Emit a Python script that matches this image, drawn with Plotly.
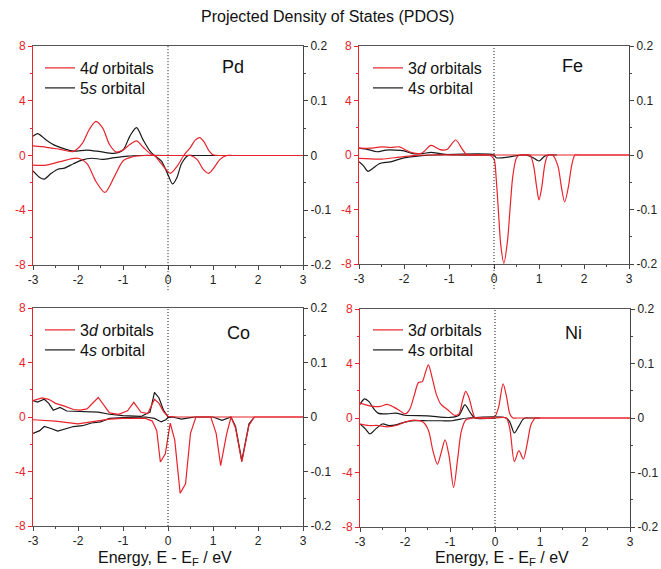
import plotly.graph_objects as go

# ---------------- data ----------------
# Pd
pd_d_up_x = [-3, -2.7, -2.4, -2.1, -1.9, -1.75, -1.6, -1.45, -1.3, -1.15, -1.0, -0.85, -0.7, -0.55, -0.4, -0.3, -0.15, 0.05, 0.2, 0.35, 0.5, 0.6, 0.7, 0.8, 0.9, 1.0, 1.2, 1.4, 3]
pd_d_up_y = [0.7, 0.6, 0.45, 0.3, 0.9, 1.9, 2.5, 2.0, 0.8, 0.25, 0.4, 0.8, 1.07, 0.6, 0.15, 0.0, -0.6, -1.3, -0.8, 0.0, 0.6, 1.1, 1.3, 1.0, 0.4, 0.05, 0, 0, 0]
pd_d_dn_x = [-3, -2.7, -2.4, -2.0, -1.8, -1.6, -1.4, -1.2, -1.0, -0.8, -0.5, -0.4, 0.4, 0.5, 0.65, 0.78, 0.9, 1.02, 1.15, 1.3, 1.45, 3]
pd_d_dn_y = [-0.7, -0.7, -0.45, -0.2, -0.6, -1.9, -2.7, -1.6, -0.4, -0.1, 0, 0, 0, 0, -0.3, -1.0, -1.3, -0.9, -0.3, 0, 0, 0]
pd_s_up_x = [-3, -2.9, -2.7, -2.5, -2.3, -2.1, -1.8, -1.5, -1.2, -1.0, -0.85, -0.7, -0.55, -0.4, -0.3, -0.15, 0.0, 0.1, 0.2, 0.3, 0.45, 0.55, 1.2]
pd_s_up_y = [0.035, 0.04, 0.028, 0.018, 0.012, 0.008, 0.01, 0.007, 0.004, 0.01, 0.035, 0.051, 0.028, 0.008, 0.0, -0.01, -0.035, -0.052, -0.04, -0.015, 0.0, 0.0, 0.0]
pd_s_dn_x = [-3, -2.85, -2.75, -2.6, -2.45, -2.3, -2.1, -1.9, -1.7, -1.45, -1.2, -0.9, -0.6, 0]
pd_s_dn_y = [-0.028, -0.04, -0.043, -0.033, -0.025, -0.023, -0.015, -0.008, -0.005, -0.007, -0.004, -0.001, 0, 0]

# Fe
fe_d_up_x = [-3, -2.75, -2.5, -2.3, -2.1, -1.95, -1.8, -1.6, -1.4, -1.2, -1.05, -0.85, -0.72, -0.6, -0.5, 3]
fe_d_up_y = [0.5, 0.5, 0.6, 0.55, 0.6, 0.35, 0.15, 0.15, 0.7, 0.4, 0.4, 1.1, 0.5, 0.0, 0, 0]
fe_d_dn_x = [-3, -2.5, -2.1, -1.8, -1.5, -0.2, -0.1, 0.0, 0.05, 0.1, 0.15, 0.22, 0.3, 0.36, 0.42, 0.5, 0.57, 0.65, 0.8, 0.88, 0.95, 1.0, 1.06, 1.13, 1.2, 1.3, 1.42, 1.5, 1.57, 1.65, 1.73, 1.8, 1.9, 3]
fe_d_dn_y = [-0.25, -0.3, -0.15, -0.05, 0, 0, 0, -0.3, -1.8, -4.2, -6.6, -7.95, -6.3, -3.8, -1.5, -0.2, 0, 0, 0, -0.8, -2.4, -3.3, -2.4, -0.7, 0, 0, -0.8, -2.4, -3.45, -2.4, -0.7, 0, 0, 0]
fe_s_up_x = [-3, -2.8, -2.6, -2.4, -2.2, -2.0, -1.8, -1.6, -1.4, -1.2, -1.0, -0.8, 0]
fe_s_up_y = [0.0125, 0.01, 0.006, 0.009, 0.009, 0.0075, 0.0025, 0.0025, 0.005, 0.0025, 0.0005, 0, 0]
fe_s_dn_x = [-3, -2.9, -2.8, -2.7, -2.55, -2.3, -2.1, -1.9, -1.6, -1.3, 0, 0.05, 0.3, 0.5, 0.7, 0.85, 1.0, 1.12, 1.2, 1.4]
fe_s_dn_y = [-0.0125, -0.02, -0.03, -0.025, -0.016, -0.0125, -0.0075, -0.004, -0.001, 0, 0, -0.005, -0.004, -0.001, 0, -0.004, -0.011, -0.0025, 0, 0]

# Co
co_d_up_x = [-3, -2.8, -2.65, -2.5, -2.3, -2.1, -1.95, -1.8, -1.55, -1.3, -1.1, -0.9, -0.76, -0.6, -0.45, -0.3, -0.2, -0.1, 0, 0.2, 3]
co_d_up_y = [1.2, 1.4, 1.3, 1.0, 0.8, 0.55, 0.5, 0.6, 1.43, 0.3, 0.2, 0.45, 1.08, 0.35, 0.25, 1.3, 1.0, 0.4, 0.05, 0, 0]
co_d_dn_x = [-3, -2.5, -2.0, -1.7, -1.3, -1.0, -0.5, -0.35, -0.25, -0.17, -0.06, 0.05, 0.15, 0.27, 0.39, 0.5, 0.62, 0.95, 1.07, 1.17, 1.3, 1.4, 1.5, 1.64, 1.8, 1.92, 3]
co_d_dn_y = [-0.2, -0.3, -0.5, -0.35, -0.15, -0.1, -0.1, -0.3, -1.0, -3.3, -2.7, -0.45, -1.7, -5.6, -4.9, -1.2, 0, 0, -1.2, -3.57, -1.3, 0, -0.8, -3.3, -0.6, 0, 0]
co_s_up_x = [-3, -2.9, -2.75, -2.65, -2.55, -2.4, -2.25, -2.0, -1.8, -1.55, -1.3, -1.0, -0.6, -0.4, -0.3, -0.2, -0.1, 0]
co_s_up_y = [0.03, 0.0275, 0.0325, 0.025, 0.0125, 0.0175, 0.011, 0.01, 0.01, 0.009, 0.005, 0.0025, 0.001, 0.009, 0.045, 0.035, 0.0125, 0]
co_s_dn_x = [-3, -2.85, -2.75, -2.6, -2.45, -2.3, -2.1, -1.9, -1.7, -1.5, -1.3, -1.0, -0.5, -0.3, -0.15, -0.05, 0, 0.1, 0.3, 0.5, 0.6, 1.0, 1.2, 1.4, 1.5, 1.64, 1.8, 1.92]
co_s_dn_y = [-0.03, -0.025, -0.0175, -0.021, -0.026, -0.0225, -0.0175, -0.016, -0.011, -0.009, -0.0025, -0.001, 0, -0.0025, -0.009, -0.005, -0.001, 0, -0.004, -0.001, 0, 0, -0.006, 0, -0.0175, -0.08, -0.0125, 0]

# Ni
ni_d_up_x = [-3, -2.85, -2.7, -2.55, -2.4, -2.25, -2.1, -2.0, -1.9, -1.8, -1.7, -1.62, -1.55, -1.48, -1.4, -1.3, -1.2, -1.05, -0.9, -0.8, -0.72, -0.65, -0.58, -0.5, -0.45, -0.4, -0.05, 0, 0.08, 0.18, 0.26, 0.33, 0.4, 0.5, 3]
ni_d_up_y = [1.1, 0.95, 0.85, 0.85, 1.0, 0.8, 0.5, 0.3, 0.6, 1.6, 2.6, 2.65, 3.3, 3.9, 3.0, 1.7, 1.0, 0.6, 0.2, 0.3, 1.3, 1.95, 1.5, 0.5, 0.05, 0, 0, 0.1, 0.8, 2.5, 1.5, 0.3, 0, 0, 0]
ni_d_dn_x = [-3, -2.8, -2.6, -2.4, -2.2, -2.0, -1.8, -1.6, -1.48, -1.38, -1.28, -1.2, -1.11, -1.02, -0.92, -0.83, -0.75, -0.65, -0.5, 0, 0.25, 0.33, 0.43, 0.53, 0.63, 0.72, 0.8, 0.9, 1.0, 3]
ni_d_dn_y = [-0.45, -0.55, -0.55, -0.65, -0.55, -0.3, -0.15, -0.3, -0.9, -2.4, -3.4, -2.6, -1.6, -2.8, -5.1, -3.0, -1.0, -0.15, 0, 0, 0, -0.8, -3.2, -2.4, -3.0, -1.8, -0.5, 0, 0, 0]
ni_s_up_x = [-3, -2.9, -2.8, -2.7, -2.6, -2.4, -2.2, -2.0, -1.5, -1.0, -0.8, -0.67, -0.55, -0.45, 0]
ni_s_up_y = [0.025, 0.035, 0.03, 0.0175, 0.009, 0.0075, 0.009, 0.005, 0.004, 0.001, 0.005, 0.024, 0.01, 0, 0]
ni_s_dn_x = [-3, -2.88, -2.78, -2.65, -2.5, -2.35, -2.2, -2.0, -1.8, -1.5, -1.2, -0.95, -0.8, -0.6, 0.25, 0.33, 0.43, 0.53, 0.62, 0.68, 0.75, 1.0]
ni_s_dn_y = [-0.011, -0.02, -0.029, -0.02, -0.011, -0.014, -0.0125, -0.0075, -0.005, -0.005, -0.005, -0.005, -0.0025, 0, 0, -0.0075, -0.0275, -0.015, -0.0025, 0, 0, 0]

elements = ["Pd", "Fe", "Co", "Ni"]
d_labels = ["4<i>d</i> orbitals", "3<i>d</i> orbitals", "3<i>d</i> orbitals", "3<i>d</i> orbitals"]
s_labels = ["5<i>s</i> orbital", "4<i>s</i> orbital", "4<i>s</i> orbital", "4<i>s</i> orbital"]

x_tickvals = [-3, -2, -1, 0, 1, 2, 3]
x_ticktext = ["-3", "-2", "-1", "0", "1", "2", "3"]
left_tickvals = [-8, -4, 0, 4, 8]
left_ticktext = ["-8", "-4", "0", "4", "8"]
right_tickvals = [-0.2, -0.1, 0, 0.1, 0.2]
right_ticktext = ["-0.2", "-0.1", "0", "0.1", "0.2"]

title_text = "Projected Density of States (PDOS)"
xlabel_text = "Energy, E - E<sub>F</sub> / eV"

panels = [
    (pd_d_up_x, pd_d_up_y, pd_d_dn_x, pd_d_dn_y, pd_s_up_x, pd_s_up_y, pd_s_dn_x, pd_s_dn_y, "spline"),
    (fe_d_up_x, fe_d_up_y, fe_d_dn_x, fe_d_dn_y, fe_s_up_x, fe_s_up_y, fe_s_dn_x, fe_s_dn_y, "spline"),
    (co_d_up_x, co_d_up_y, co_d_dn_x, co_d_dn_y, co_s_up_x, co_s_up_y, co_s_dn_x, co_s_dn_y, "linear"),
    (ni_d_up_x, ni_d_up_y, ni_d_dn_x, ni_d_dn_y, ni_s_up_x, ni_s_up_y, ni_s_dn_x, ni_s_dn_y, "spline"),
]

# ---------------- layout geometry ----------------
W, H = 661, 569
RED = "#e8232b"
BLACK = "#1a1a1a"
FONT = "Liberation Sans, Arial, sans-serif"

# pixel boxes: (left, right, top, bottom)
boxes = [(33, 303, 46, 265), (359, 629, 46, 264), (33, 303, 308, 526), (360, 630, 309, 527)]
# legend anchors (left, top) of the two entries per panel
legend_pos = [((40, 51), (40, 71)), ((368, 51), (368, 71)), ((40, 313), (40, 333)), ((368, 313), (368, 333))]
label_pos = [(233, 67), (572, 66), (238, 333), (573, 333)]

fig = go.Figure()
layout = dict(
    width=W, height=H,
    margin=dict(l=0, r=0, t=0, b=0, autoexpand=False),
    paper_bgcolor="white", plot_bgcolor="white",
    font=dict(family=FONT, size=12, color="#222"),
    showlegend=True,
    annotations=[], shapes=[],
)

def legend_id(k):
    return "legend" if k == 1 else f"legend{k}"

for i, (dux, duy, ddx, ddy, sux, suy, sdx, sdy, shape) in enumerate(panels):
    n = i + 1
    xa = "x" if n == 1 else f"x{n}"
    yb_id = 2 * i + 1          # base axis (right side, s orbitals)
    yo_id = 2 * i + 2          # overlay axis (left side, d orbitals)
    yb = "y" if yb_id == 1 else f"y{yb_id}"
    yo = f"y{yo_id}"
    leg_d = legend_id(2 * i + 1)
    leg_s = legend_id(2 * i + 2)
    l, r, t, b = boxes[i]
    xdom = [l / W, r / W]
    ydom = [1 - b / H, 1 - t / H]
    line_kw = dict(shape=shape, smoothing=0.8) if shape == "spline" else dict(shape="linear")

    fig.add_trace(go.Scatter(x=dux, y=duy, xaxis=xa, yaxis=yo, mode="lines",
                             line=dict(color=RED, width=1.2, **line_kw),
                             name=d_labels[i], legend=leg_d))
    fig.add_trace(go.Scatter(x=ddx, y=ddy, xaxis=xa, yaxis=yo, mode="lines",
                             line=dict(color=RED, width=1.2, **line_kw),
                             showlegend=False, legend=leg_d))
    fig.add_trace(go.Scatter(x=sux, y=suy, xaxis=xa, yaxis=yb, mode="lines",
                             line=dict(color=BLACK, width=1.2, **line_kw),
                             name=s_labels[i], legend=leg_s))
    fig.add_trace(go.Scatter(x=sdx, y=sdy, xaxis=xa, yaxis=yb, mode="lines",
                             line=dict(color=BLACK, width=1.2, **line_kw),
                             showlegend=False, legend=leg_s))

    xkey = "xaxis" if n == 1 else f"xaxis{n}"
    ybkey = "yaxis" if yb_id == 1 else f"yaxis{yb_id}"
    yokey = f"yaxis{yo_id}"
    layout[xkey] = dict(
        domain=xdom, anchor=yb, range=[-3, 3],
        tickmode="array", tickvals=x_tickvals, ticktext=x_ticktext,
        ticks="outside", ticklen=4, tickcolor="#444", tickwidth=1,
        minor=dict(dtick=0.5, tick0=0, ticks="outside", ticklen=2, tickcolor="#444"),
        showline=True, linecolor="#555", linewidth=1, mirror=True,
        showgrid=False, zeroline=False, automargin=False,
        tickfont=dict(size=12, color="#222", family=FONT),
    )
    layout[ybkey] = dict(
        domain=ydom, anchor=xa, side="right", range=[-0.2, 0.2],
        tickmode="array", tickvals=right_tickvals, ticktext=right_ticktext,
        ticks="outside", ticklen=4, tickcolor="#444",
        minor=dict(dtick=0.05, tick0=0, ticks="outside", ticklen=2, tickcolor="#444"),
        showline=True, linecolor="#444", linewidth=1,
        showgrid=False, zeroline=False, automargin=False,
        tickfont=dict(size=12, color="#222", family=FONT),
    )
    layout[yokey] = dict(
        overlaying=yb, anchor=xa, side="left", range=[-8, 8],
        tickmode="array", tickvals=left_tickvals, ticktext=left_ticktext,
        ticks="outside", ticklen=4, tickcolor=RED,
        minor=dict(dtick=2, tick0=0, ticks="outside", ticklen=2, tickcolor=RED),
        showline=True, linecolor=RED, linewidth=1,
        showgrid=False, zeroline=False, automargin=False,
        tickfont=dict(size=12, color=RED, family=FONT),
    )
    for leg, (lx, ly) in zip((leg_d, leg_s), legend_pos[i]):
        layout[leg] = dict(
            x=lx / W, y=1 - ly / H, xanchor="left", yanchor="top",
            bgcolor="rgba(0,0,0,0)", borderwidth=0,
            font=dict(size=16, color="#111", family=FONT),
        )
    px, py = label_pos[i]
    layout["annotations"].append(dict(
        text=elements[i], x=px / W, y=1 - py / H, xref="paper", yref="paper",
        showarrow=False, font=dict(size=18, color="#111", family=FONT),
        xanchor="center", yanchor="middle",
    ))
    layout["shapes"].append(dict(
        type="line", xref=xa, yref=f"{yb} domain", x0=0, x1=0,
        y0=(-0.115 if i < 2 else 0), y1=1,
        line=dict(color="#111", width=1, dash="1px,2px"),
    ))

layout["annotations"].append(dict(
    text=title_text, x=327 / W, y=1 - 16 / H, xref="paper", yref="paper",
    showarrow=False, font=dict(size=16, color="#111", family=FONT),
    xanchor="center", yanchor="middle",
))
for cx in (165, 502):
    layout["annotations"].append(dict(
        text=xlabel_text, x=cx / W, y=1 - 558 / H, xref="paper", yref="paper",
        showarrow=False, font=dict(size=16, color="#111", family=FONT),
        xanchor="center", yanchor="middle",
    ))

fig.update_layout(**layout)
fig.write_html(
    "out.html",
    config={"responsive": False, "displayModeBar": False},
    post_script="document.body.style.margin='0';document.body.style.overflow='hidden';",
)
